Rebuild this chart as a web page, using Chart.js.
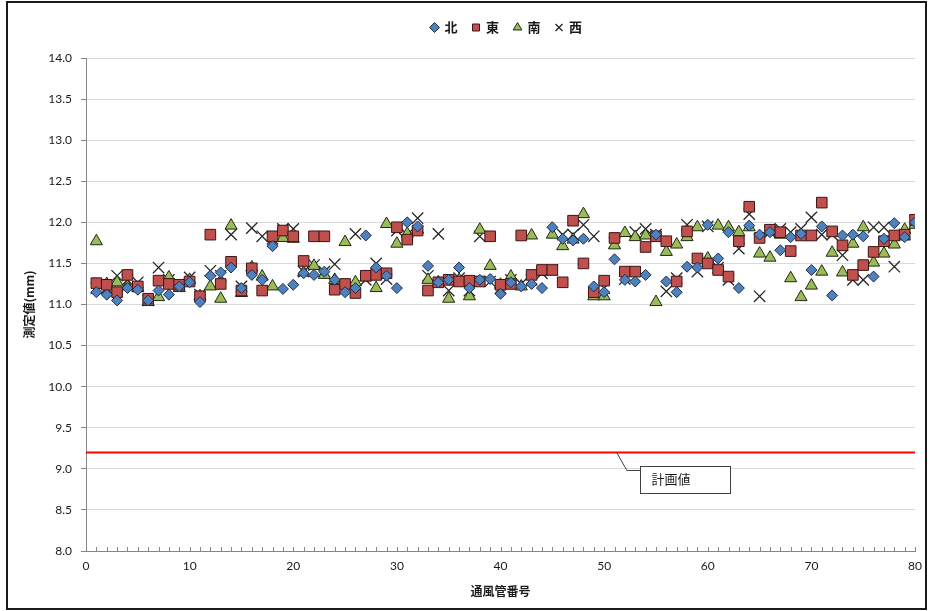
<!DOCTYPE html>
<html>
<head>
<meta charset="utf-8">
<script src="https://cdn.jsdelivr.net/npm/chart.js@4.4.1/dist/chart.umd.min.js"></script>
<style>
  html, body { margin: 0; padding: 0; background: #fff; }
  #wrap { width: 930px; height: 611px; position: relative; }
</style>
</head>
<body>
<div id="wrap"><canvas id="c" width="930" height="611"></canvas></div>
<script>
// 通風管番号 1〜80
const tubeNos = [
  1, 2, 3, 4, 5, 6, 7, 8, 9, 10, 11, 12, 13, 14, 15, 16, 17, 18, 19, 20,
  21, 22, 23, 24, 25, 26, 27, 28, 29, 30, 31, 32, 33, 34, 35, 36, 37, 38, 39, 40,
  41, 42, 43, 44, 45, 46, 47, 48, 49, 50, 51, 52, 53, 54, 55, 56, 57, 58, 59, 60,
  61, 62, 63, 64, 65, 66, 67, 68, 69, 70, 71, 72, 73, 74, 75, 76, 77, 78, 79, 80
];

// 測定値 (mm) — 方位別
const north = [
  11.15, 11.12, 11.05, 11.20, 11.18, 11.05, 11.17, 11.12, 11.22, 11.27,
  11.03, 11.35, 11.39, 11.45, 11.20, 11.36, 11.30, 11.71, 11.19, 11.24,
  11.38, 11.36, 11.40, 11.30, 11.15, 11.20, 11.84, 11.45, 11.35, 11.20,
  12.00, 11.95, 11.47, 11.27, 11.30, 11.45, 11.20, 11.30, 11.31, 11.13,
  11.27, 11.22, 11.25, 11.20, 11.94, 11.80, 11.78, 11.80, 11.22, 11.15,
  11.55, 11.30, 11.28, 11.36, 11.85, 11.28, 11.15, 11.46, 11.45, 11.97,
  11.56, 11.88, 11.20, 11.96, 11.85, 11.88, 11.66, 11.82, 11.86, 11.42,
  11.95, 11.11, 11.84, 11.85, 11.83, 11.34, 11.80, 11.99, 11.82, 12.00
];
const east = [
  11.26, 11.24, 11.15, 11.36, 11.22, 11.07, 11.29, 11.25, 11.24, 11.28,
  11.10, 11.85, 11.25, 11.52, 11.17, 11.44, 11.17, 11.83, 11.90, 11.83,
  11.53, 11.83, 11.83, 11.18, 11.25, 11.14, 11.35, 11.36, 11.38, 11.94,
  11.79, 11.90, 11.17, 11.27, 11.30, 11.28, 11.29, 11.28, 11.83, 11.24,
  11.25, 11.84, 11.36, 11.42, 11.42, 11.27, 12.02, 11.50, 11.15, 11.29,
  11.81, 11.40, 11.40, 11.70, 11.83, 11.77, 11.28, 11.89, 11.56, 11.50,
  11.42, 11.34, 11.77, 12.19, 11.81, 11.91, 11.88, 11.65, 11.84, 11.84,
  12.24, 11.89, 11.72, 11.36, 11.48, 11.64, 11.77, 11.84, 11.85, 12.03
];
const south = [
  11.77, 11.25, 11.27, 11.22, 11.20, 11.03, 11.09, 11.33, 11.20, 11.30,
  11.10, 11.22, 11.07, 11.96, 11.14, 11.45, 11.34, 11.22, 11.81, 11.80,
  11.39, 11.47, 11.36, 11.30, 11.76, 11.27, 11.33, 11.20, 11.98, 11.74,
  11.86, 11.91, 11.30, 11.27, 11.07, 11.30, 11.10, 11.91, 11.47, 11.24,
  11.34, 11.22, 11.84, 11.40, 11.85, 11.71, 11.79, 12.10, 11.10, 11.10,
  11.72, 11.87, 11.82, 11.84, 11.03, 11.64, 11.73, 11.82, 11.94, 11.56,
  11.96, 11.94, 11.88, 11.94, 11.62, 11.57, 11.85, 11.32, 11.09, 11.23,
  11.40, 11.63, 11.39, 11.74, 11.94, 11.51, 11.62, 11.73, 11.91, 11.97
];
const west = [
  11.20, 11.20, 11.35, 11.30, 11.27, 11.05, 11.45, 11.30, 11.25, 11.33,
  11.12, 11.41, 11.35, 11.85, 11.22, 11.93, 11.83, 11.80, 11.92, 11.92,
  11.40, 11.48, 11.40, 11.49, 11.20, 11.86, 11.30, 11.50, 11.31, 11.90,
  11.85, 12.05, 11.35, 11.86, 11.17, 11.32, 11.17, 11.83, 11.28, 11.20,
  11.30, 11.25, 11.30, 11.38, 11.42, 11.85, 11.85, 11.97, 11.83, 11.20,
  11.75, 11.31, 11.88, 11.92, 11.85, 11.16, 11.32, 11.97, 11.40, 11.95,
  11.45, 11.30, 11.68, 12.10, 11.10, 11.88, 11.92, 11.88, 11.92, 12.06,
  11.85, 11.85, 11.60, 11.30, 11.30, 11.94, 11.94, 11.46, 11.85, 12.02
];

// 計画値 (mm)
const planValue = 9.2;
const planSpan = [0, 80];
const planLabel = '計画値';

// 軸目盛
const yTicks = { min: 8.0, max: 14.0, step: 0.5 };
const xTicks = { min: 0, max: 80, step: 1, labelEvery: 10 };

const seriesNames = ['北', '東', '南', '西'];

const pts = (vals) => vals.map((v, i) => ({ x: tubeNos[i], y: v }));

const CJK = '"Noto Sans CJK JP", "Noto Sans", sans-serif';
const NUM = 'Lato, "Liberation Sans", sans-serif';

// 凡例の下に余白を足し、少し右へ寄せる
const legendGap = {
  id: 'legendGap',
  beforeLayout(chart) {
    const lg = chart.legend;
    if (lg && !lg.__gapWrapped) {
      const fit = lg.fit.bind(lg);
      lg.fit = function () { fit(); this.height += 14; };
      lg.__gapWrapped = true;
    }
  },
  afterLayout(chart) {
    const lg = chart.legend;
    if (lg) { lg.left += 6; lg.right += 6; }
  }
};

// 外枠と x 軸の内向き目盛
const frameAndTicks = {
  id: 'frameAndTicks',
  afterDraw(chart) {
    const { ctx } = chart;
    const xs = chart.scales.x;
    const ys = chart.scales.y;
    const bottom = ys.getPixelForValue(yTicks.min);
    ctx.save();
    ctx.strokeStyle = '#868686';
    ctx.lineWidth = 1;
    ctx.beginPath();
    for (let v = xTicks.min; v <= xTicks.max; v += xTicks.step) {
      const px = Math.round(xs.getPixelForValue(v)) + 0.5;
      ctx.moveTo(px, bottom);
      ctx.lineTo(px, bottom - 4);
    }
    ctx.stroke();
    // chart frame
    ctx.strokeStyle = '#1a1a1a';
    ctx.lineWidth = 2;
    ctx.strokeRect(7, 2, chart.width - 11, chart.height - 4);
    ctx.restore();
  }
};

// 計画値の吹き出し
const callout = {
  anchorX: 51.2,      // 引出線の起点 (通風管番号)
  elbowX: 52.2, elbowY: 8.98,
  boxLeft: 53.5, boxRight: 62.2,
  boxTop: 9.04, boxBottom: 8.71
};
const calloutPlugin = {
  id: 'calloutPlugin',
  afterDatasetsDraw(chart) {
    const { ctx } = chart;
    const xs = chart.scales.x, ys = chart.scales.y;
    const ax = xs.getPixelForValue(callout.anchorX), ay = ys.getPixelForValue(planValue);
    const ex = xs.getPixelForValue(callout.elbowX), ey = ys.getPixelForValue(callout.elbowY);
    const bl = xs.getPixelForValue(callout.boxLeft), br = xs.getPixelForValue(callout.boxRight);
    const bt = ys.getPixelForValue(callout.boxTop), bb = ys.getPixelForValue(callout.boxBottom);
    ctx.save();
    ctx.strokeStyle = '#404040';
    ctx.lineWidth = 1;
    ctx.beginPath();
    ctx.moveTo(ax, ay);
    ctx.lineTo(ex, ey);
    ctx.lineTo(bl, ey);
    ctx.stroke();
    ctx.fillStyle = '#ffffff';
    ctx.fillRect(bl, bt, br - bl, bb - bt);
    ctx.strokeRect(Math.round(bl) + 0.5, Math.round(bt) + 0.5, Math.round(br - bl), Math.round(bb - bt));
    ctx.fillStyle = '#1a1a1a';
    ctx.font = '13px ' + CJK;
    ctx.textBaseline = 'middle';
    ctx.textAlign = 'left';
    ctx.fillText(planLabel, bl + 11, (bt + bb) / 2);
    ctx.restore();
  }
};

const marker = (label, data, style, bg, border, radius, bw) => ({
  type: 'scatter',
  label,
  data: pts(data),
  pointStyle: style,
  backgroundColor: bg,
  borderColor: border,
  pointRadius: radius,
  pointHoverRadius: radius,
  pointBorderWidth: bw,
  borderWidth: bw,
  showLine: false
});

new Chart(document.getElementById('c'), {
  data: {
    datasets: [
      marker(seriesNames[0], north, 'rectRot', '#4f81bd', '#1c2e4a', 5.5, 1),
      marker(seriesNames[1], east, 'rect', '#c0504d', '#3b1514', 7.5, 1),
      marker(seriesNames[2], south, 'triangle', '#9bbb59', '#1e2a10', 7, 1),
      marker(seriesNames[3], west, 'crossRot', 'rgba(0,0,0,0)', '#262626', 8, 1.3),
      {
        type: 'line',
        label: planLabel,
        data: planSpan.map(x => ({ x, y: planValue })),
        borderColor: '#ff0000',
        borderWidth: 2,
        pointRadius: 0,
        fill: false
      }
    ]
  },
  options: {
    responsive: false,
    animation: false,
    events: [],
    layout: { padding: { left: 10, right: 12, top: 6, bottom: 8 } },
    plugins: {
      tooltip: { enabled: false },
      legend: {
        position: 'top',
        fullSize: false,
        labels: {
          filter: (item) => item.text !== planLabel,
          usePointStyle: true,
          boxWidth: 7,
          boxHeight: 7,
          padding: 15,
          color: '#1a1a1a',
          font: { family: CJK, size: 13, weight: 'bold' }
        }
      }
    },
    scales: {
      x: {
        type: 'linear',
        min: xTicks.min,
        max: xTicks.max,
        afterFit: (s) => { s.height = 52; },
        border: { display: true, color: '#868686', width: 1 },
        grid: { display: true, drawOnChartArea: false, drawTicks: false },
        ticks: {
          stepSize: xTicks.step,
          autoSkip: false,
          maxRotation: 0,
          padding: 8,
          color: '#1a1a1a',
          font: { family: NUM, size: 12 },
          callback: (v) => (v % xTicks.labelEvery === 0 ? String(v) : '')
        },
        title: {
          display: true,
          text: '通風管番号',
          color: '#1a1a1a',
          font: { family: CJK, size: 12, weight: 'bold' },
          padding: { top: 4, bottom: 4 }
        }
      },
      y: {
        type: 'linear',
        min: yTicks.min,
        max: yTicks.max,
        afterFit: (s) => { s.width = 76; },
        border: { display: true, color: '#868686', width: 1 },
        grid: { color: '#d9d9d9', lineWidth: 1, tickLength: 5, tickColor: '#868686' },
        ticks: {
          stepSize: yTicks.step,
          padding: 9,
          color: '#1a1a1a',
          font: { family: NUM, size: 12 },
          callback: (v) => Number(v).toFixed(1)
        },
        title: {
          display: true,
          text: '測定値(mm)',
          color: '#1a1a1a',
          font: { family: CJK, size: 12, weight: 'bold' },
          padding: { top: 12, bottom: 4 }
        }
      }
    }
  },
  plugins: [legendGap, frameAndTicks, calloutPlugin]
});
</script>
</body>
</html>
